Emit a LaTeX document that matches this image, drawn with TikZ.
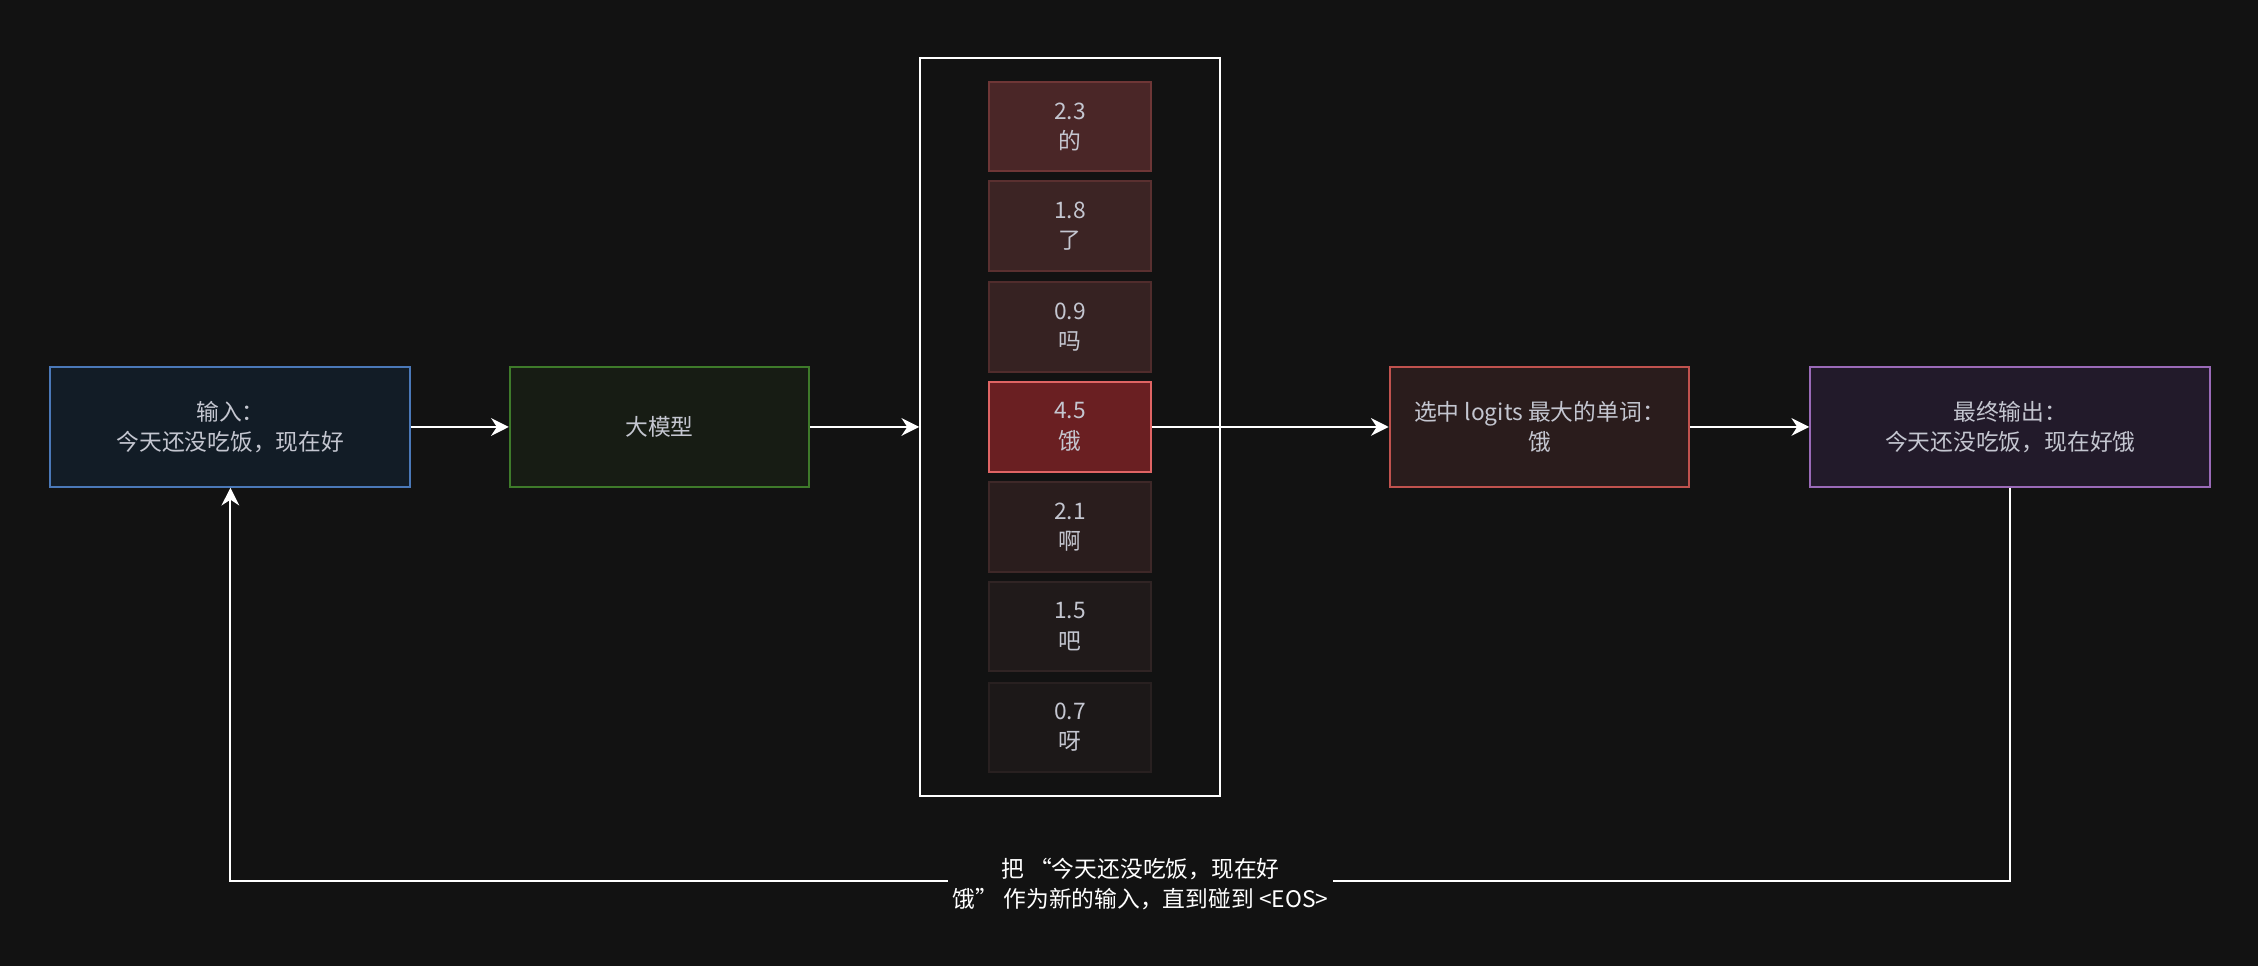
\documentclass[tikz,border=0pt]{standalone}
\usepackage{fontspec}
\setmainfont{Noto Sans CJK SC}
\usetikzlibrary{arrows.meta}
\definecolor{bg}{HTML}{121212}
\definecolor{txt}{HTML}{C4C6D0}
\definecolor{inB}{HTML}{4A78B8}\definecolor{inF}{HTML}{121C26}
\definecolor{mB}{HTML}{3E7A2A}\definecolor{mF}{HTML}{171C14}
\definecolor{sB}{HTML}{C0524E}\definecolor{sF}{HTML}{2A1C1C}
\definecolor{fB}{HTML}{9A6AB8}\definecolor{fF}{HTML}{221A2A}
\definecolor{cF1}{HTML}{4A2627}\definecolor{cB1}{HTML}{6E3636}
\definecolor{cF2}{HTML}{3C2424}\definecolor{cB2}{HTML}{5A3030}
\definecolor{cF3}{HTML}{362222}\definecolor{cB3}{HTML}{502C2C}
\definecolor{cF4}{HTML}{6A1F22}\definecolor{cB4}{HTML}{E06464}
\definecolor{cF5}{HTML}{2A1D1D}\definecolor{cB5}{HTML}{3E2828}
\definecolor{cF6}{HTML}{201A1A}\definecolor{cB6}{HTML}{302424}
\definecolor{cF7}{HTML}{1C1818}\definecolor{cB7}{HTML}{282020}
\begin{document}
\begin{tikzpicture}[x=0.02cm,y=-0.02cm,
  box/.style={draw,line width=0.8pt,inner sep=0,align=center,text=txt,font=\fontsize{9}{12}\selectfont},
  cell/.style={box,minimum width=2.24cm,minimum height=1.24cm},
  arr/.style={draw=white,line width=0.8pt,-{Stealth[length=7pt,width=7pt]}}]
\fill[bg] (0,0) rectangle (1568,671);
\useasboundingbox (0,0) rectangle (1568,671);
\node[box,draw=inB,fill=inF,minimum width=5cm,minimum height=1.66cm] (in) at (160,296.5) {输入：\\今天还没吃饭，现在好};
\node[box,draw=mB,fill=mF,minimum width=4.16cm,minimum height=1.66cm] (m) at (458,296.5) {大模型};
\node[box,draw=white,minimum width=4.16cm,minimum height=10.26cm] (c) at (743,296.5) {};
\node[cell,draw=cB1,fill=cF1] (c1) at (743,88) {2.3\\的};
\node[cell,draw=cB2,fill=cF2] (c2) at (743,157) {1.8\\了};
\node[cell,draw=cB3,fill=cF3] (c3) at (743,227) {0.9\\吗};
\node[cell,draw=cB4,fill=cF4] (c4) at (743,296.5) {4.5\\饿};
\node[cell,draw=cB5,fill=cF5] (c5) at (743,366) {2.1\\啊};
\node[cell,draw=cB6,fill=cF6] (c6) at (743,435) {1.5\\吧};
\node[cell,draw=cB7,fill=cF7] (c7) at (743,505) {0.7\\呀};
\node[box,draw=sB,fill=sF,minimum width=4.16cm,minimum height=1.66cm] (s) at (1069,296.5) {选中 logits 最大的单词：\\饿};
\node[box,draw=fB,fill=fF,minimum width=5.56cm,minimum height=1.66cm] (f) at (1396,296.5) {最终输出：\\今天还没吃饭，现在好饿};
\draw[arr] (in) -- (m);
\draw[arr] (m) -- (c.west);
\draw[arr] (c4) -- (s);
\draw[arr] (s) -- (f);
\coordinate (b1) at (1396,612);
\coordinate (b2) at (160,612);
\draw[arr] (f.south) -- (b1) -- (b2) -- (in.south);
\node[fill=bg,inner sep=2pt,align=center,text=white,font=\fontsize{9}{12}\selectfont] (lbl) at (792,614) {把 “今天还没吃饭，现在好\\饿” 作为新的输入，直到碰到 <EOS>};
\end{tikzpicture}
\end{document}
